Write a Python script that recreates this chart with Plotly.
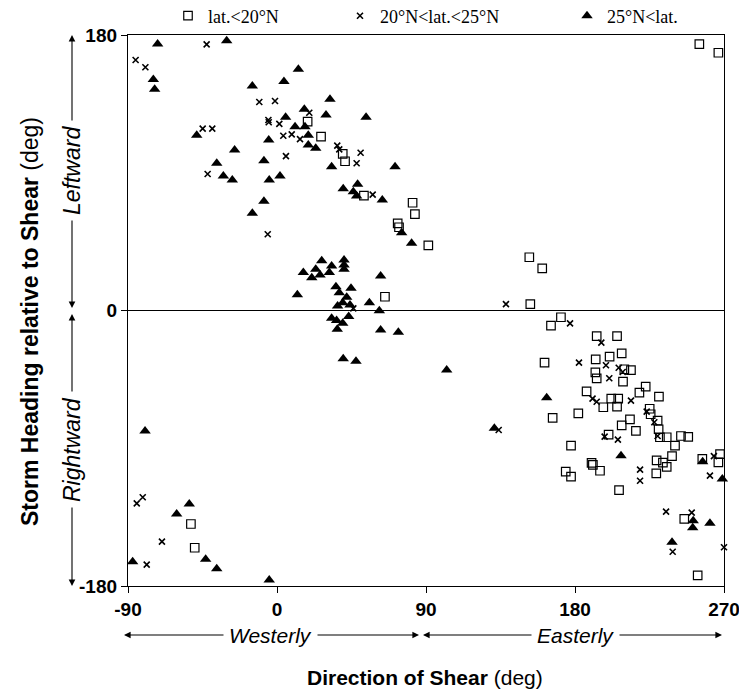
import plotly.graph_objects as go

# ---- data ----
sq_x = [18.5, 26.6, 39.7, 41.1, 52.5, 81.9, 83.3, 72.9, 73.7, 91.4, 65.2, 255.1, 266.6, 152.4, 160.2, 153, 171.5,
        165.5, 193.1, 205.4, 208.2, 200.9, 192.5, 161.6, 209.8, 213.8, 192.3, 193.1, 209, 222.7, 218.9, 187, 197.1,
        201.9, 206.1, 205.4, 230.7, 225.1, 225.7, 229.9, 213.2, 208.2, 216.8, 230.5, 166.5, 182, 231.3, 235.4, 244,
        248.4, 240.4, 200.3, 177.6, 238.6, 229.3, 233.1, 235.4, 229.1, 190, 190.8, 195.1, 174.4, 177.6, 206.6, 256.9,
        267.6, 266.6, 246, 254.1, -52.0, -49.7]
sq_y = [123.4, 113.6, 102.3, 97.5, 75, 70.4, 63, 56.9, 54.4, 42.6, 9.0, 174.1, 168.4, 34.8, 27.5, 4.2, -4.4,
        -9.9, -16.7, -16.7, -28, -30.2, -31.9, -34.1, -38.4, -38.9, -40.4, -44.3, -46.5, -49.8, -53.7, -52.8, -63.2,
        -57.6, -57.6, -62.8, -56.3, -64.2, -67.8, -72, -71.1, -75, -78.7, -77.6, -70.2, -67.2, -82.8, -82.8, -82,
        -82.6, -88.3, -81.1, -88.3, -95.2, -97.9, -99.4, -102.2, -106.4, -99.6, -100.9, -104.7, -105.3, -108.6, -117.3, -97,
        -93.8, -99.2, -136.2, -173, -139.5, -155]

cr_x = [-85.4, -79.5, -42.5, -10.7, -1.2, -5.2, -5.0, 1.4, -44.9, -39.1, 3.8, 8.9, 13.9, 19.5, 5.4, 36.4, 37.6,
        50.5, 48.1, -41.9, 57.8, -5.6, 46.1, 138.3, 177, 195.9, 182.4, 198.7, 206.4, 208.8, 200.7, 190.6, 193.1,
        213.8, 223.3, 227.9, 229.9, 197.9, 205.9, 219.3, 219.3, 263.9, 261.5, 133.9, 235, 250.5, 239, 270,
        -84.7, -81.1, -69.5, -78.7]
cr_y = [163.7, 158.9, 173.9, 136.2, 136.9, 124.5, 123, 121.9, 118.8, 118.8, 114.2, 115.1, 112, 129.2, 100.9, 107.7, 105.3,
        103.1, 96.2, 89.2, 75.7, 49.8, 1.4, 4.2, -8.4, -21, -34.1, -35.8, -37.4, -40.2, -44.3, -57.6, -59.6,
        -58.9, -66.1, -73, -82, -82.4, -84.4, -104, -111.2, -95.1, -107.9, -78.1, -131.4, -132.1, -157.6, -154.7,
        -126, -122, -151, -166]

tr_x = [-72.1, -30.4, -74.7, -73.9, 12.9, 4.2, -14.9, 32.0, 16.5, 5.2, 29.6, 53.8, 10.9, 16.9, -48.5, 18.9, -5.0,
        18.9, 23.4, -25.6, -7.9, -36.4, 33.0, 71.3, -32.4, -27.0, -4.7, 1.8, 40.0, 48.7, 46.1, 48.1, 63.6, -7.9,
        -14.9, 75.3, 81.3,
        27.0, 40.5, 40.5, 40.5, 15.9, 23.4, 26.0, 21.0, 33.0, 31.6, 62.6, 12.3, 35.6, 44.7, 37.6, 42.1, 36.6, 39.7,
        44.1, 55.8, 61.8, 33.0, 36.0, 39.7, 43.3, 36.4, 62.6, 73.3, 40.0, 47.7,
        -79.7, -53.0, -60.6, -87.2, -43.1, -36.4, -4.7, 102.5, 162.9, 131.3, 207.8, 257.1, 269, 251.4, 251.1, 261.5,
        238.6]
tr_y = [174.1, 176.3, 151, 144.5, 157.6, 149.7, 146.7, 138, 131.5, 126.2, 127.7, 126.2, 120.1, 120.1, 114.5, 114.5, 111.4,
        108.1, 106, 104.9, 97.9, 96.2, 94, 94, 87.9, 85.3, 85.3, 87.9, 79.6, 82.5, 77.6, 74.8, 72.2, 71.3,
        63.5, 50.8, 43.9,
        32.5, 33, 29.7, 26.9, 24.9, 26.9, 23.2, 21.4, 29.1, 24.9, 22.5, 10.3, 15.5, 14.5, 11.6, 8.6, 2.9, 5.1,
        3.6, 5.1, -0.1, -5.1, -6.6, -8.4, -4.0, -12.3, -12.7, -14.2, -31.5, -33.2,
        -78.7, -126.4, -133, -164.1, -162.6, -168.7, -176.1, -38.9, -57, -77, -94.9, -98.8, -110.1, -137.3, -141.9, -139,
        -151.4]

x_ticks = [-90, 0, 90, 180, 270]
y_ticks = [-180, 0, 180]
names = ["lat.<20°N", "20°N<lat.<25°N", "25°N<lat."]

# ---- layout geometry ----
W, H = 739, 691
L, R, T, B = 128, 724, 35, 586
def pxx(p): return (p - L) / (R - L)
def pxy(p): return (B - p) / (B - T)

SANS = "Liberation Sans, Arial, Helvetica, sans-serif"
SERIF = "Liberation Serif, Times New Roman, serif"

fig = go.Figure()
fig.add_trace(go.Scatter(x=sq_x, y=sq_y, mode="markers", name=names[0], legend="legend",
                         marker=dict(symbol="square-open", size=8.5, color="black", line=dict(width=1.2, color="black")),
                         cliponaxis=False))
fig.add_trace(go.Scatter(x=cr_x, y=cr_y, mode="markers", name=names[1], legend="legend2",
                         marker=dict(symbol="x-thin-open", size=6, color="black", line=dict(width=1.6, color="black")),
                         cliponaxis=False))
fig.add_trace(go.Scatter(x=tr_x, y=tr_y, mode="markers", name=names[2], legend="legend3",
                         marker=dict(symbol="triangle-up", size=10, color="black", line=dict(width=0)),
                         cliponaxis=False))

leg_common = dict(yanchor="middle", xanchor="left", bgcolor="rgba(0,0,0,0)",
                  font=dict(family=SERIF, size=18, color="black"), borderwidth=0)

ann = []
# y-axis title
ann.append(dict(xref="paper", yref="paper", x=pxx(30), y=pxy(322), showarrow=False, textangle=-90,
                text="<b>Storm Heading relative to Shear</b> (deg)",
                font=dict(family=SANS, size=23, color="black"), xanchor="center", yanchor="middle"))
# x-axis title
ann.append(dict(xref="paper", yref="paper", x=pxx(425), y=pxy(677), showarrow=False,
                text="<b>Direction of Shear</b> (deg)",
                font=dict(family=SANS, size=21, color="black"), xanchor="center", yanchor="middle"))

def arrow(hx, hy, tx, ty):
    ann.append(dict(xref="paper", yref="paper", x=pxx(hx), y=pxy(hy), ax=tx - hx, ay=ty - hy,
                    axref="pixel", ayref="pixel", text="", showarrow=True,
                    arrowhead=2, arrowsize=1.2, arrowwidth=1.1, arrowcolor="black", standoff=0, startstandoff=0))

def label(cx, cy, txt, angle=0, size=21):
    ann.append(dict(xref="paper", yref="paper", x=pxx(cx), y=pxy(cy), showarrow=False, textangle=angle,
                    text="<i>" + txt + "</i>", bgcolor="white", borderpad=5,
                    font=dict(family=SANS, size=size, color="black"), xanchor="center", yanchor="middle"))

# vertical arrows
AX = 72
arrow(AX, 35, AX, 171); arrow(AX, 308, AX, 171); label(AX, 171, "Leftward", -90, 23)
arrow(AX, 314, AX, 450); arrow(AX, 586, AX, 450); label(AX, 450, "Rightward", -90, 23)
# horizontal arrows
AY = 635
arrow(124, AY, 270, AY); arrow(419, AY, 270, AY); label(270, AY, "Westerly")
arrow(423, AY, 575, AY); arrow(722, AY, 575, AY); label(575, AY, "Easterly")

fig.update_layout(
    width=W, height=H, autosize=False,
    margin=dict(l=L, r=W - R, t=T, b=H - B, pad=0, autoexpand=False),
    paper_bgcolor="white", plot_bgcolor="white",
    showlegend=True,
    legend=dict(x=pxx(168), y=pxy(16), **leg_common),
    legend2=dict(x=pxx(340), y=pxy(16), **leg_common),
    legend3=dict(x=pxx(567), y=pxy(16), **leg_common),
    annotations=ann,
    xaxis=dict(range=[-90, 270], tickvals=x_ticks, ticktext=[str(v) for v in x_ticks],
               showgrid=False, zeroline=False, showline=True, mirror=True, linecolor="black", linewidth=1.3,
               ticks="outside", ticklen=6, tickwidth=1.2, tickcolor="black", ticklabeloverflow="allow",
               tickfont=dict(family=SANS, size=19, color="black", weight="bold")),
    yaxis=dict(range=[-180, 180], tickvals=y_ticks, ticktext=[str(v) for v in y_ticks],
               showgrid=False, zeroline=True, zerolinecolor="black", zerolinewidth=1.1,
               showline=True, mirror=True, linecolor="black", linewidth=1.3,
               ticks="outside", ticklen=6, tickwidth=1.2, tickcolor="black", ticklabeloverflow="allow",
               tickfont=dict(family=SANS, size=19, color="black", weight="bold")),
)

fig.write_html("out.html", config={"displayModeBar": False},
               post_script="document.body.style.margin='0px';document.body.style.overflow='hidden';")
